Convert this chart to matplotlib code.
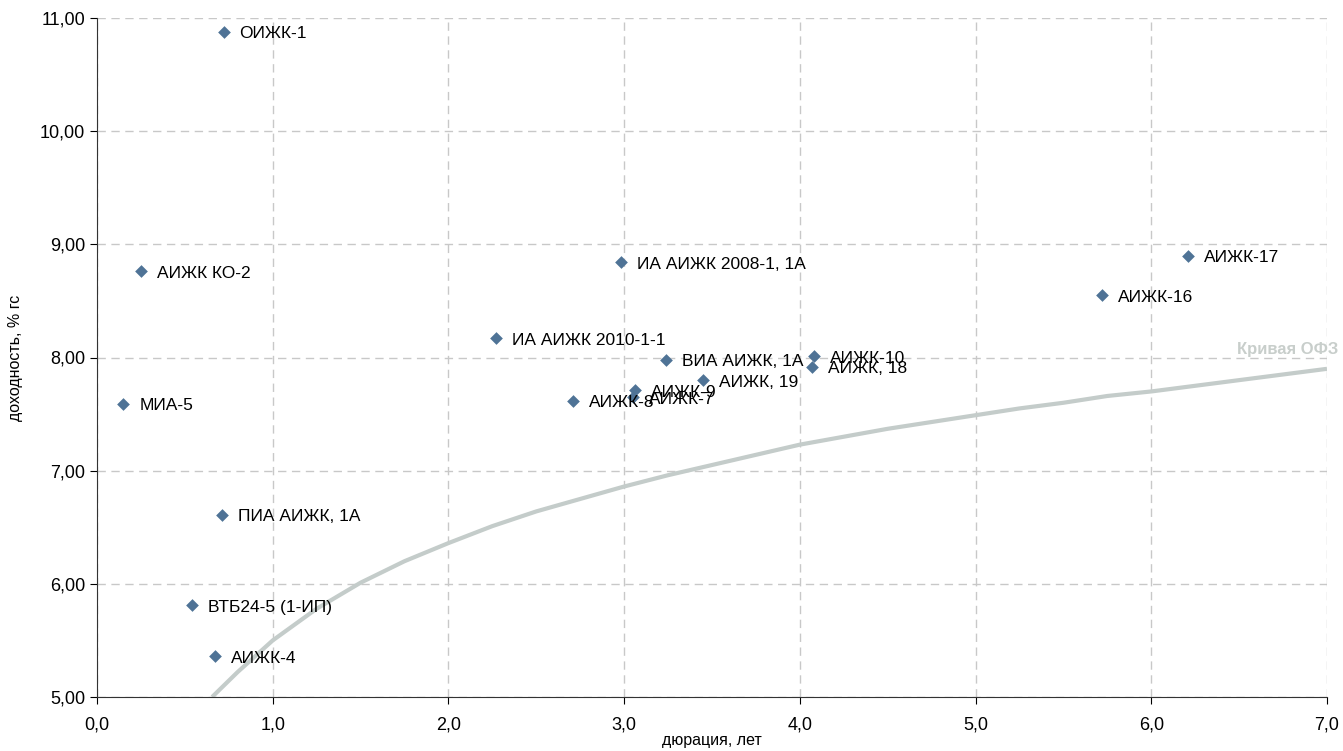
import matplotlib
matplotlib.use("Agg")
import matplotlib.pyplot as plt
from matplotlib.ticker import FuncFormatter

names = ["ОИЖК-1", "АИЖК КО-2", "МИА-5", "ПИА АИЖК, 1А", "ВТБ24-5 (1-ИП)", "АИЖК-4",
         "ИА АИЖК 2010-1-1", "ИА АИЖК 2008-1, 1А", "ВИА АИЖК, 1А", "АИЖК, 19",
         "АИЖК-9", "АИЖК-7", "АИЖК-8", "АИЖК-10", "АИЖК, 18", "АИЖК-16", "АИЖК-17"]
duration = [0.72, 0.25, 0.15, 0.71, 0.54, 0.67, 2.27, 2.98, 3.24, 3.45,
            3.06, 3.05, 2.71, 4.08, 4.07, 5.72, 6.21]
yield_ = [10.88, 8.76, 7.59, 6.61, 5.81, 5.36, 8.17, 8.84, 7.98, 7.80,
          7.71, 7.65, 7.62, 8.01, 7.92, 8.55, 8.90]

curve_x = [0.655, 0.8, 1.0, 1.25, 1.5, 1.75, 2.0, 2.25, 2.5, 2.75, 3.0, 3.25, 3.5, 3.75,
           4.0, 4.25, 4.5, 4.75, 5.0, 5.25, 5.5, 5.75, 6.0, 6.25, 6.5, 6.75, 7.0]
curve_y = [5.0, 5.22, 5.50, 5.78, 6.01, 6.20, 6.36, 6.51, 6.64, 6.75, 6.86, 6.96, 7.05, 7.14,
           7.23, 7.30, 7.37, 7.43, 7.49, 7.55, 7.60, 7.66, 7.70, 7.75, 7.80, 7.85, 7.90]

plt.rcParams['font.family'] = ['Liberation Sans Narrow', 'Liberation Sans', 'DejaVu Sans']

fig = plt.figure(figsize=(13.43, 7.51), dpi=100)
ax = fig.add_axes([97/1343, 1-697/751, (1327-97)/1343, (697-18)/751])

ax.plot(curve_x, curve_y, color='#C4CCCA', lw=3, zorder=2, solid_capstyle='butt')
ax.annotate("Кривая ОФЗ", (7.0, 8.07), xytext=(11, 0), textcoords='offset pixels',
            color='#C8CECB', fontsize=12, fontweight='bold', ha='right', va='center',
            annotation_clip=False)

ax.scatter(duration, yield_, marker='D', s=42, color='#4F7396', zorder=3, linewidths=0)
for n, x, y in zip(names, duration, yield_):
    ax.annotate(n, (x, y), xytext=(16, -2), textcoords='offset pixels',
                fontsize=12.5, va='center', ha='left', color='black')

ax.set_xlim(0, 7)
ax.set_ylim(5, 11)
ax.set_xticks(range(0, 8))
ax.set_yticks(range(5, 12))
ax.xaxis.set_major_formatter(FuncFormatter(lambda v, p: f"{v:.1f}".replace('.', ',')))
ax.yaxis.set_major_formatter(FuncFormatter(lambda v, p: f"{v:.2f}".replace('.', ',')))
ax.tick_params(labelsize=13, length=5, color='black')
ax.tick_params(axis='x', pad=9)
ax.grid(True, color='#C8C8C8', ls=(0, (6, 4)), lw=1)
for s in ['top', 'right']:
    ax.spines[s].set_visible(False)
for s in ['left', 'bottom']:
    ax.spines[s].set_color('#333333')
ax.set_xlabel("дюрация, лет", fontsize=11.5, labelpad=0)
ax.set_ylabel("доходность, % гс", fontsize=11.5, labelpad=12)

fig.savefig("out.png", dpi=100)
